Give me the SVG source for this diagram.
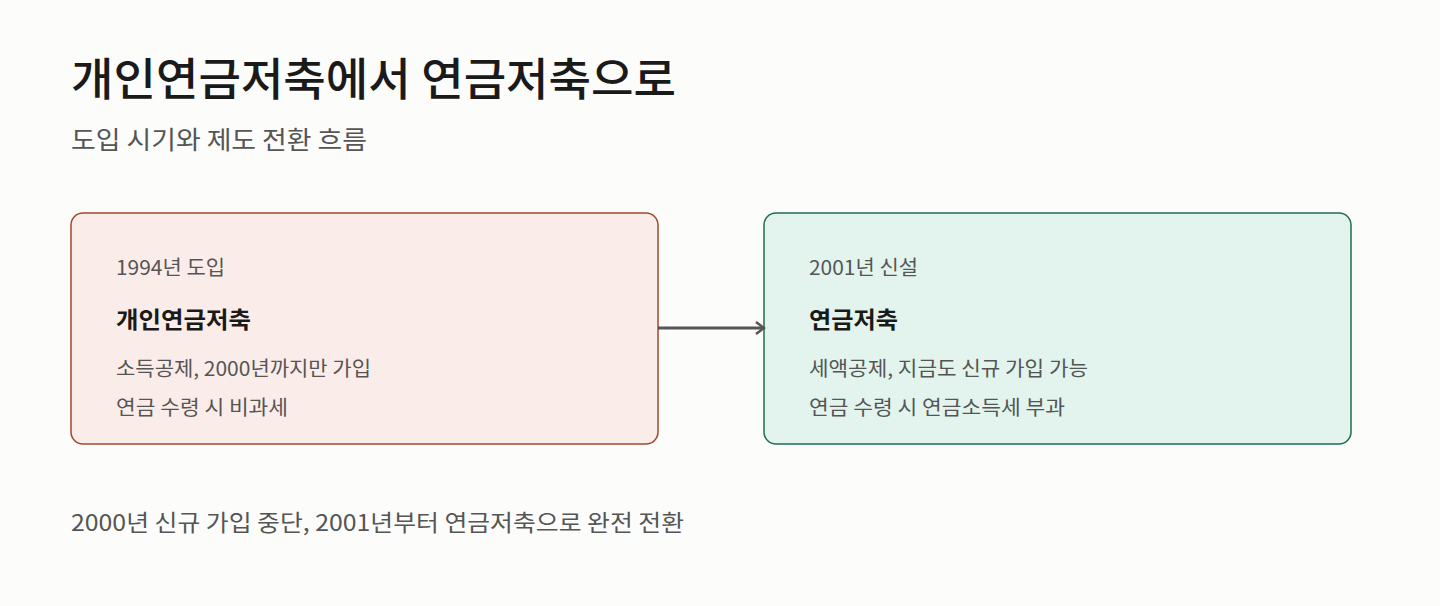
<svg xmlns="http://www.w3.org/2000/svg" width="1440" height="606" viewBox="0 0 1440 606">
<style>
text{font-family:"Noto Sans CJK KR","Noto Sans",sans-serif}
.t{font-size:45px;font-weight:500;fill:#1a1a1a}
.s{font-size:25px;fill:#555}
.m{font-size:20px;fill:#555}
.h{font-size:23px;font-weight:700;fill:#1a1a1a}
.f{font-size:23px;fill:#555}
</style>
<defs><marker id="a" markerWidth="12" markerHeight="14" refX="10" refY="7" orient="auto" markerUnits="userSpaceOnUse"><path d="M2,1 L10,7 L2,13" fill="none" stroke="#555" stroke-width="2.5"/></marker></defs>
<rect width="1440" height="606" fill="#fcfcfb"/>
<text class="t" x="71" y="96" textLength="605" lengthAdjust="spacingAndGlyphs">개인연금저축에서 연금저축으로</text>
<text class="s" x="71" y="149" textLength="296" lengthAdjust="spacingAndGlyphs">도입 시기와 제도 전환 흐름</text>
<g id="n1"><rect x="71" y="213" width="587" height="231" rx="12" fill="#faece8" stroke="#a0482c" stroke-width="1.5"/>
<text class="m" x="116" y="275" textLength="109" lengthAdjust="spacingAndGlyphs">1994년 도입</text><text class="h" x="116" y="328" textLength="135" lengthAdjust="spacingAndGlyphs">개인연금저축</text>
<text class="m" x="116" y="376" textLength="255" lengthAdjust="spacingAndGlyphs">소득공제, 2000년까지만 가입</text><text class="m" x="116" y="415" textLength="172" lengthAdjust="spacingAndGlyphs">연금 수령 시 비과세</text></g>
<g id="n2"><rect x="764" y="213" width="587" height="231" rx="12" fill="#e2f4ed" stroke="#1e6e50" stroke-width="1.5"/>
<text class="m" x="809" y="275" textLength="109" lengthAdjust="spacingAndGlyphs">2001년 신설</text><text class="h" x="809" y="328" textLength="89" lengthAdjust="spacingAndGlyphs">연금저축</text>
<text class="m" x="809" y="376" textLength="279" lengthAdjust="spacingAndGlyphs">세액공제, 지금도 신규 가입 가능</text><text class="m" x="809" y="415" textLength="256" lengthAdjust="spacingAndGlyphs">연금 수령 시 연금소득세 부과</text></g>
<g id="c"><line x1="658" y1="328" x2="764" y2="328" stroke="#555" stroke-width="3" marker-end="url(#a)"/></g>
<text class="f" x="71" y="531" textLength="613" lengthAdjust="spacingAndGlyphs">2000년 신규 가입 중단, 2001년부터 연금저축으로 완전 전환</text>
</svg>
